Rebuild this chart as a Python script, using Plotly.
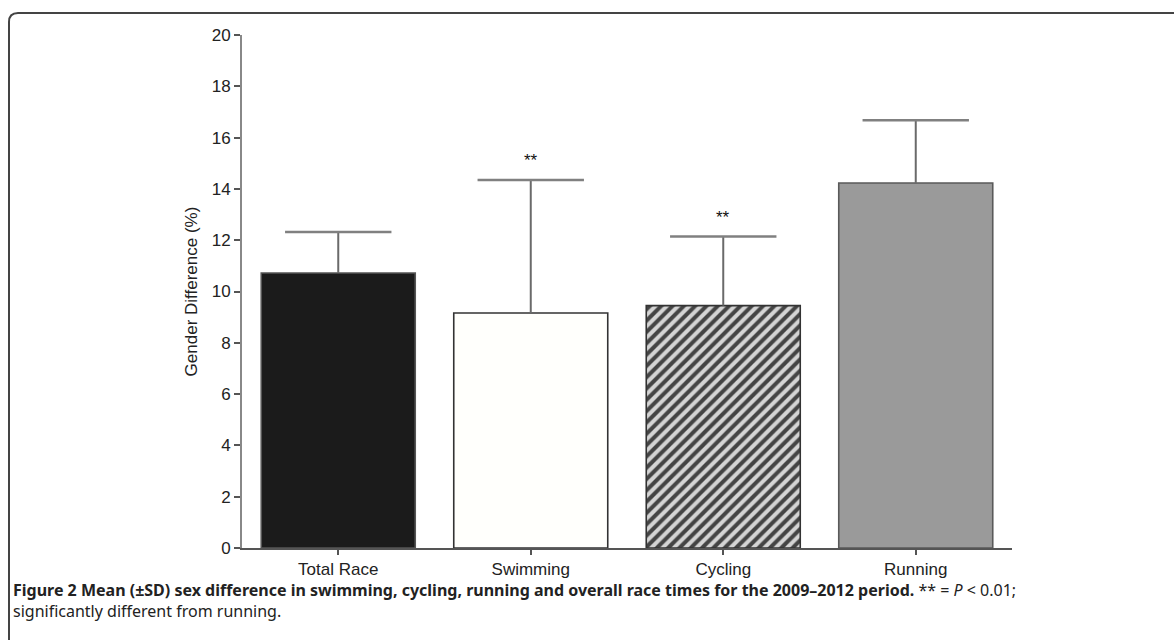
import plotly.graph_objects as go

categories = ["Total Race", "Swimming", "Cycling", "Running"]
means = [10.72, 9.16, 9.45, 14.23]
sds = [1.60, 5.19, 2.69, 2.45]
significance = ["", "**", "**", ""]
y_ticks = [0, 2, 4, 6, 8, 10, 12, 14, 16, 18, 20]

W, H = 1174, 640
L, R, T, B = 242, 162, 35, 92
PW, PH = W - L - R, H - T - B

def px2paper_x(px):
    return (px - L) / PW

def px2paper_y(py):
    return (H - B - py) / PH

fig = go.Figure()
fig.add_trace(go.Bar(
    x=categories,
    y=means,
    width=0.8,
    marker=dict(
        color=["#1b1b1b", "#fffffc", "#d4d4d4", "#9a9a9a"],
        line=dict(color=["#555555", "#333333", "#333333", "#5a5a5a"], width=1.6),
        pattern=dict(
            shape=["", "", "/", ""],
            fgcolor="#000000",
            fgopacity=1,
            bgcolor=["#1b1b1b", "#fffffc", "#d4d4d4", "#9a9a9a"],
            size=8,
            solidity=0.5,
        ),
    ),
    error_y=dict(
        type="data",
        symmetric=False,
        array=sds,
        arrayminus=[0] * len(sds),
        color="#6a6a6a",
        thickness=2,
        width=0,
    ),
    showlegend=False,
    hoverinfo="skip",
))

# error-bar caps (upper end only)
fig.add_trace(go.Scatter(
    x=categories,
    y=[m + s for m, s in zip(means, sds)],
    mode="markers",
    marker=dict(symbol="line-ew", size=76, color="#808080",
                line=dict(color="#808080", width=2.5)),
    showlegend=False,
    hoverinfo="skip",
))

for c, m, s, sig in zip(categories, means, sds, significance):
    if sig:
        fig.add_annotation(x=c, y=m + s, text=sig, showarrow=False, yshift=19,
                           font=dict(family="Liberation Sans", size=17, color="#111"))

caption1 = ("<b>Figure 2 Mean (±SD) sex difference in swimming, cycling, running and overall race "
            "times for the 2009–2012 period.</b> ** = <i>P</i> &lt; 0.01;")
caption2 = "significantly different from running."
cap_font = dict(family="Noto Sans", size=16, color="#222")
fig.add_annotation(xref="paper", yref="paper", x=px2paper_x(11), y=px2paper_y(590),
                   xanchor="left", yanchor="middle", text=caption1, showarrow=False,
                   font=cap_font)
fig.add_annotation(xref="paper", yref="paper", x=px2paper_x(11), y=px2paper_y(611),
                   xanchor="left", yanchor="middle", text=caption2, showarrow=False,
                   font=cap_font)

# rounded border frame
x0, x1 = px2paper_x(9), px2paper_x(1178)
y0, y1 = px2paper_y(13), px2paper_y(650)
rx, ry = 9 / PW, 9 / PH
path = (f"M {x0 + rx} {y0} L {x1} {y0} M {x0} {y1} L {x0} {y0 - ry} "
        f"Q {x0} {y0} {x0 + rx} {y0}")
fig.add_shape(type="path", xref="paper", yref="paper", path=path,
              line=dict(color="#444444", width=2))

axis_font = dict(family="Liberation Sans, Arial", size=17, color="#222")
fig.update_layout(
    width=W, height=H,
    margin=dict(l=L, r=R, t=T, b=B),
    paper_bgcolor="white", plot_bgcolor="white",
    bargap=0.2,
    xaxis=dict(
        range=[-0.5, 3.5], showgrid=False, zeroline=False,
        showline=True, linecolor="#555", linewidth=2,
        ticks="outside", ticklen=5, tickcolor="#555", tickwidth=1.5,
        tickfont=axis_font, fixedrange=True,
    ),
    yaxis=dict(
        range=[0, 20], tickvals=y_ticks, showgrid=False, zeroline=False,
        showline=True, linecolor="#888", linewidth=2,
        ticks="outside", ticklen=6, tickcolor="#555", tickwidth=1.5,
        tickfont=axis_font, fixedrange=True,
        title=dict(text="Gender Difference (%)", font=axis_font, standoff=10),
    ),
)

fig.write_html("out.html", config={"displayModeBar": False})

# remove the default page margin so the figure sits at the window origin
with open("out.html", "r", encoding="utf-8") as f:
    html = f.read()
html = html.replace("<head>", "<head><style>html,body{margin:0;padding:0;overflow:hidden;}</style>", 1)
with open("out.html", "w", encoding="utf-8") as f:
    f.write(html)
